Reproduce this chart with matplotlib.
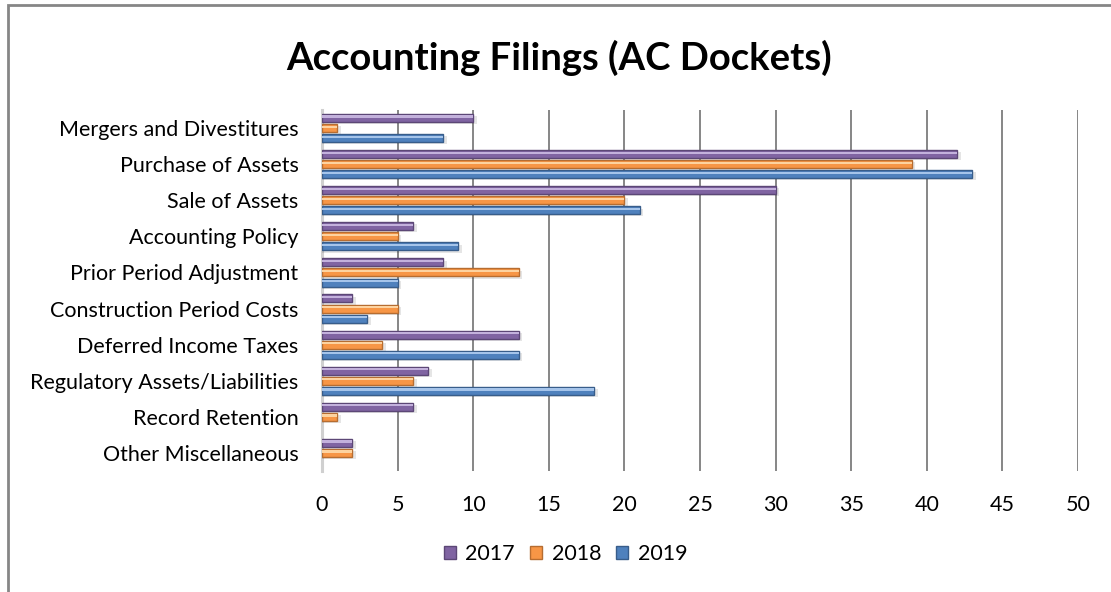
import numpy as np
import matplotlib.pyplot as plt
from matplotlib.patches import Rectangle, Patch

# ── data ──────────────────────────────────────────────────────────────────
categories = [
    'Mergers and Divestitures',
    'Purchase of Assets',
    'Sale of Assets',
    'Accounting Policy',
    'Prior Period Adjustment',
    'Construction Period Costs',
    'Deferred Income Taxes',
    'Regulatory Assets/Liabilities',
    'Record Retention',
    'Other Miscellaneous',
]
years = ['2017', '2018', '2019']
vals_2017 = [10, 42, 30, 6, 8, 2, 13, 7, 6, 2]
vals_2018 = [1, 39, 20, 5, 13, 5, 4, 6, 1, 2]
vals_2019 = [8, 43, 21, 9, 5, 3, 13, 18, 0, 0]
x_ticks = [0, 5, 10, 15, 20, 25, 30, 35, 40, 45, 50]

# ── style (Office 2007 palette, faux bevel) ──────────────────────────────
BASE = ['#8064A2', '#F79646', '#4F81BD']
DARK = ['#5C4776', '#B66D31', '#385D8A']
LIGHT = ['#C3B1DC', '#FDD3A0', '#A5C4EA']
GRID = '#868686'
FONT = ['Lato', 'DejaVu Sans']

plt.rcParams['font.family'] = FONT

fig = plt.figure(figsize=(11.11, 5.92), dpi=100, facecolor='white')
ax = fig.add_axes([322 / 1111, 1 - 471 / 592, (1078 - 322) / 1111, (471 - 110) / 592])

idx = np.arange(len(categories))
bar_h = 0.22
step = 0.28
series = [vals_2017, vals_2018, vals_2019]

for i, vals in enumerate(series):
    v = np.asarray(vals, dtype=float)
    keep = v > 0
    y = idx[keep] + (i - 1) * step
    w = v[keep]
    # soft drop shadow
    ax.barh(y + 0.06, w + 0.25, height=bar_h, color='#000000', alpha=0.10,
            linewidth=0, zorder=2)
    # body
    ax.barh(y, w, height=bar_h, color=BASE[i], edgecolor=DARK[i],
            linewidth=1.0, zorder=3)
    # highlight stripe on upper half
    ax.barh(y - bar_h * 0.18, w, height=bar_h * 0.28, color=LIGHT[i],
            linewidth=0, zorder=4)

ax.set_ylim(len(categories) - 0.5, -0.5)
ax.set_xlim(x_ticks[0], x_ticks[-1])
ax.set_xticks(x_ticks)
ax.set_yticks(idx)
ax.set_yticklabels(categories)

ax.grid(axis='x', color=GRID, linewidth=1.4)
ax.grid(axis='y', visible=False)
ax.set_axisbelow(True)
for side in ('top', 'right', 'bottom'):
    ax.spines[side].set_visible(False)
ax.spines['left'].set_color('#D0D0D0')
ax.spines['left'].set_linewidth(2.2)
ax.spines['left'].set_zorder(1)

ax.tick_params(axis='x', length=0, pad=17, labelsize=15.5, labelcolor='black')
ax.tick_params(axis='y', length=0, pad=17, labelsize=15.5, labelcolor='black')

fig.text(0.503, 1 - 58 / 592, 'Accounting Filings (AC Dockets)', ha='center',
         va='center', fontsize=27.5, fontweight='bold', color='black')

handles = [Patch(facecolor=BASE[i], edgecolor=DARK[i], linewidth=1.0)
           for i in range(3)]
fig.legend(handles, years, loc='center', bbox_to_anchor=(0.509, 1 - 554 / 592),
           ncol=3, frameon=False, fontsize=15.5, handlelength=0.55,
           handleheight=0.55, handletextpad=0.45, columnspacing=0.7)

# outer chart frame (only top and left edges fall inside the image)
fig.add_artist(Rectangle((8 / 1111, -0.1), 1.2, 1 - 5 / 592 + 0.1,
                         transform=fig.transFigure, fill=False,
                         edgecolor=GRID, linewidth=2))

fig.savefig('out.png', dpi=100, facecolor='white')
